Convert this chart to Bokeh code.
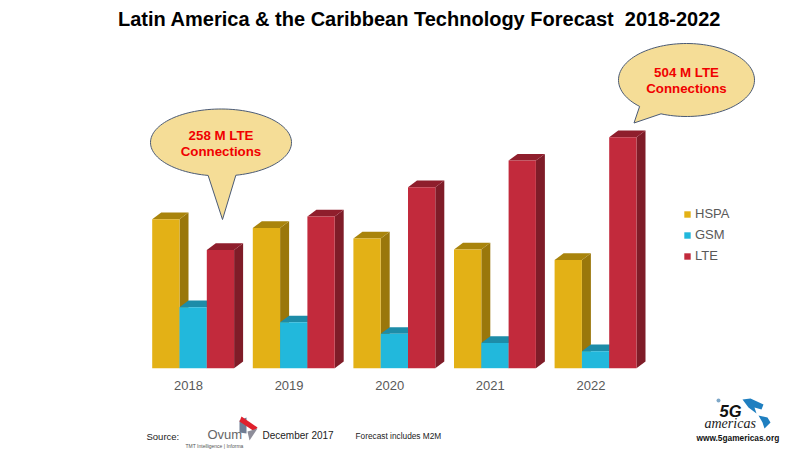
import numpy as np
from bokeh.core.properties import value
from bokeh.embed import file_html
from bokeh.models import (ColumnDataSource, FixedTicker, Legend, LegendItem, Range1d, BasicTickFormatter)
from bokeh.plotting import figure
from bokeh.resources import INLINE

years = [2018, 2019, 2020, 2021, 2022]
hspa = [325, 306, 283, 259, 236]
gsm = [133, 100, 75, 55, 37]
lte = [258, 331, 395, 453, 504]
series_names = ["HSPA", "GSM", "LTE"]
title_text = "Latin America & the Caribbean Technology Forecast \u00a02018-2022"

# layout: page pixels -> data
PAGE_L, PAGE_R = 0, 800
FRAME_TOP, FRAME_BOTTOM = 32, 450
PX_PER_YEAR = 100.6
PX_PER_M = 0.4583
X0, Y0 = 188.0, 367.7


def X(px):
    return 2018 + (np.asarray(px, dtype=float) - X0) / PX_PER_YEAR


def Y(py):
    return (Y0 - np.asarray(py, dtype=float)) / PX_PER_M


p = figure(width=800, height=450, output_backend="svg", toolbar_location=None,
           x_range=Range1d(float(X(PAGE_L)), float(X(PAGE_R))),
           y_range=Range1d(float(Y(FRAME_BOTTOM)), float(Y(FRAME_TOP))),
           frame_width=800, frame_height=FRAME_BOTTOM - FRAME_TOP,
           min_border=0, min_border_left=0, min_border_right=0,
           min_border_top=FRAME_TOP, min_border_bottom=0)
p.outline_line_color = None
p.grid.visible = False
p.yaxis.visible = False
p.title.text = title_text
p.title.align = "left"
p.title.offset = 117.5
p.title.text_font = "Liberation Sans"
p.title.text_font_size = "20px"
p.title.text_font_style = "bold"
p.title.text_color = "#000000"
p.title.standoff = 6

ax = p.xaxis[0]
ax.fixed_location = 0
ax.ticker = FixedTicker(ticks=years)
ax.formatter = BasicTickFormatter(use_scientific=False)
ax.axis_line_color = None
ax.major_tick_line_color = None
ax.minor_tick_line_color = None
ax.major_label_text_font = "Liberation Sans"
ax.major_label_text_font_size = "13px"
ax.major_label_text_color = "#595959"
ax.major_label_standoff = 7

BAR_PX = 27.3
DEPTH_X, DEPTH_Y = 9 / PX_PER_YEAR, 6.7 / PX_PER_M
W = BAR_PX / PX_PER_YEAR
OFFSETS = [-36.3 + BAR_PX * (i + 0.5) for i in range(3)]
colors = [("#E3B116", "#9A770B", "#A9840C"),
          ("#22B8DC", "#17788F", "#1D8CA8"),
          ("#C22A3C", "#7F1C28", "#8F1E2C")]

items = []
for name, vals, off, (front, side, top) in zip(series_names, [hspa, gsm, lte], OFFSETS, colors):
    xc = np.array(years, dtype=float) + off / PX_PER_YEAR
    v = np.array(vals, dtype=float)
    xr = xc + W / 2
    xl = xc - W / 2
    p.patches([[a, a + DEPTH_X, a + DEPTH_X, a] for a in xr],
              [[t, t + DEPTH_Y, DEPTH_Y, 0] for t in v],
              fill_color=side, line_color=None)
    p.patches([[a, a + DEPTH_X, b + DEPTH_X, b] for a, b in zip(xl, xr)],
              [[t, t + DEPTH_Y, t + DEPTH_Y, t] for t in v],
              fill_color=top, line_color=None)
    r = p.vbar(x="x", top="top", bottom=0, width=W, fill_color=front, line_color=None,
               source=ColumnDataSource(dict(x=xc, top=v)))
    items.append(LegendItem(label=name, renderers=[r]))

legend = Legend(items=items, location=(683, 187), orientation="vertical",
                padding=0, margin=0, spacing=6, glyph_width=8, glyph_height=8,
                label_standoff=4, label_text_font="Liberation Sans",
                label_text_font_size="13px", label_text_color="#595959",
                background_fill_alpha=0, border_line_color=None)
p.add_layout(legend, "center")


def balloon(cx, cy, rx, ry, base_a, tip, base_b):
    """Ellipse outline broken by a pointer; base_a/base_b are page points on the ellipse."""
    a0 = np.arctan2((base_b[1] - cy) / ry, (base_b[0] - cx) / rx)
    a1 = np.arctan2((base_a[1] - cy) / ry, (base_a[0] - cx) / rx)
    if a1 < a0:
        a1 += 2 * np.pi
    # walk the long way round the ellipse, from base_a to base_b
    t = np.linspace(a1, a0 + 2 * np.pi, 120)
    px = list(cx + rx * np.cos(t)) + [tip[0]]
    py = list(cy + ry * np.sin(t)) + [tip[1]]
    p.patch(X(px), Y(py), fill_color="#F5DD97", line_color="#4A5A75", line_width=1)


balloon(220.5, 142, 70.5, 33.5, (208, 174), (222, 219), (235, 174))
balloon(686, 79.5, 68, 36.5, (639, 106), (633.5, 122.5), (660, 114))

texts = [
    ("258 M LTE", 220.5, 135, "13.3px", "bold", "#F00000", "center", "Liberation Sans"),
    ("Connections", 220.5, 151, "13.3px", "bold", "#F00000", "center", "Liberation Sans"),
    ("504 M LTE", 686, 72, "13.3px", "bold", "#F00000", "center", "Liberation Sans"),
    ("Connections", 686, 88, "13.3px", "bold", "#F00000", "center", "Liberation Sans"),
    ("Source:", 146, 436, "9.5px", "normal", "#222222", "left", "Liberation Sans"),
    ("Ovum", 207, 434, "13px", "normal", "#666666", "left", "Liberation Sans"),
    ("TMT Intelligence | Informa", 185, 445, "5px", "normal", "#555555", "left", "Liberation Sans"),
    ("December 2017", 262, 435, "10px", "normal", "#222222", "left", "Liberation Sans"),
    ("Forecast includes M2M", 355, 435, "8.3px", "normal", "#222222", "left", "Liberation Sans"),
    ("www.5gamericas.org", 696, 437, "8.3px", "bold", "#111111", "left", "Liberation Sans"),
    ("5G", 719, 410, "16.5px", "bold italic", "#111111", "left", "Liberation Sans"),
    ("americas", 704, 423, "14px", "italic", "#222222", "left", "Liberation Serif"),
]
for txt, x, y, size, style, col, align, font in texts:
    p.text([float(X(x))], [float(Y(y))], text=[txt], text_font=value(font), text_font_size=value(size),
           text_font_style=style, text_color=col, text_align=align, text_baseline="middle")

# Ovum mark
p.patch(X([239, 246, 246, 239]), Y([420, 417, 433, 432]), fill_color="#6E7C93", line_color=None)
p.patch(X([241, 257, 254, 239]), Y([416, 427, 431, 421]), fill_color="#E0202C", line_color=None)
p.patch(X([247, 257, 249]), Y([431, 428, 440]), fill_color="#8E8E9A", line_color=None)
# 5G Americas mark
p.patch(X([742, 750, 763, 761, 754, 756, 748]), Y([399, 398, 404, 409, 407, 413, 407]),
        fill_color="#1F7FC0", line_color=None)
p.patch(X([758, 767, 770, 764, 762]), Y([415, 417, 422, 428, 422]), fill_color="#1F7FC0", line_color=None)
p.scatter([float(X(718))], [float(Y(400))], size=4, fill_color="#7FA8C8", line_color=None)

open("out.html", "w").write(file_html(p, INLINE))
